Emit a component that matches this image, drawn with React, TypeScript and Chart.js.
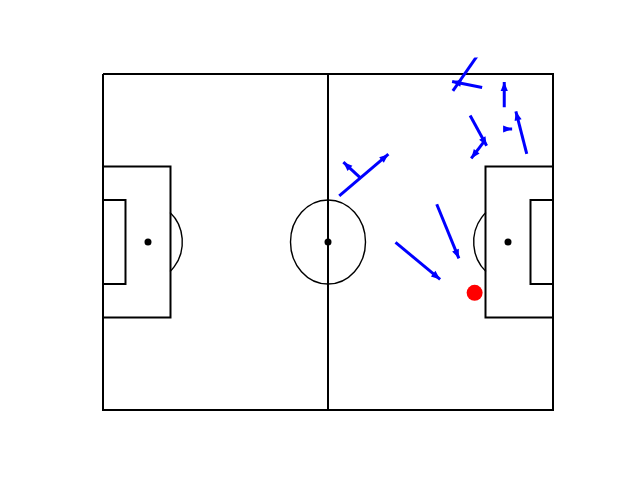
import React, { useEffect, useRef } from "react";
import { Chart, registerables } from "chart.js";

Chart.register(...registerables);

// Pitch geometry (120 x 80, y measured from top)
const pitchOutlineX = [0, 120, 120, 0, 0];
const pitchOutlineY = [0, 0, 80, 80, 0];
const halfwayX = [60, 60];
const halfwayY = [0, 80];
const leftBoxX = [0, 18, 18, 0];
const leftBoxY = [22, 22, 58, 58];
const leftSixX = [0, 6, 6, 0];
const leftSixY = [30, 30, 50, 50];
const rightBoxX = [120, 102, 102, 120];
const rightBoxY = [22, 22, 58, 58];
const rightSixX = [120, 114, 114, 120];
const rightSixY = [30, 30, 50, 50];
const spotX = [12, 60, 108];
const spotY = [40, 40, 40];
const centerCircleRadius = 10;
const penaltyArcRadius = 9.15;

// Passes (start -> end)
const passStartX = [93.3, 101.1, 107.0, 106.9, 113.0, 97.9, 101.7, 63.0, 68.7, 89.0, 78.0];
const passStartY = [4.0, 3.2, 7.9, 13.1, 19.0, 9.9, 16.0, 29.0, 24.8, 31.0, 40.1];
const passEndX = [101.8, 93.1, 107.0, 109.1, 110.1, 102.3, 98.2, 76.1, 64.1, 94.9, 89.9];
const passEndY = [-6.9, 1.8, 1.9, 13.1, 8.9, 17.1, 20.1, 19.1, 21.0, 43.9, 48.9];

// Shot
const shotX = [99.1];
const shotY = [52.1];

const X_MIN = -6.133;
const X_MAX = 126.133;
const Y_MIN = -3.905;
const Y_MAX = 84.095;

const toPts = (xs: number[], ys: number[]) => xs.map((x, i) => ({ x, y: ys[i] }));

const lineDs = (xs: number[], ys: number[], width = 2) => ({
  data: toPts(xs, ys),
  showLine: true,
  borderColor: "#000000",
  borderWidth: width,
  pointRadius: 0,
  fill: false,
  tension: 0,
  clip: 0,
});

const pitchMarkings = {
  id: "pitchMarkings",
  beforeDatasetsDraw(chart: any) {
    const { ctx, scales } = chart;
    const xs = scales.x;
    const ys = scales.y;
    const ell = (cx: number, cy: number, r: number, a0: number, a1: number) => {
      const px = xs.getPixelForValue(cx);
      const py = ys.getPixelForValue(cy);
      const rx = Math.abs(xs.getPixelForValue(cx + r) - px);
      const ry = Math.abs(ys.getPixelForValue(cy + r) - py);
      ctx.beginPath();
      ctx.ellipse(px, py, rx, ry, 0, a0, a1);
      ctx.stroke();
    };
    ctx.save();
    ctx.strokeStyle = "#000000";
    ctx.lineWidth = 1.4;
    const d = Math.PI / 180;
    ell(60, 40, centerCircleRadius, 0, 2 * Math.PI);
    ell(spotX[0], spotY[0], penaltyArcRadius, -50 * d, 50 * d);
    ell(spotX[2], spotY[2], penaltyArcRadius, 130 * d, 230 * d);
    ctx.restore();
  },
  afterDatasetsDraw(chart: any) {
    const { ctx, chartArea } = chart;
    ctx.save();
    ctx.beginPath();
    ctx.rect(chartArea.left, chartArea.top, chartArea.right - chartArea.left, chartArea.bottom - chartArea.top);
    ctx.clip();
    ctx.fillStyle = "#0000ff";
    chart.data.datasets.forEach((ds: any, i: number) => {
      if (!String(ds.label || "").startsWith("pass")) return;
      const pts = chart.getDatasetMeta(i).data;
      if (pts.length < 2) return;
      const a = pts[0];
      const b = pts[1];
      const ang = Math.atan2(b.y - a.y, b.x - a.x);
      const L = 9;
      const W = 3.6;
      const bx = b.x - L * Math.cos(ang);
      const by = b.y - L * Math.sin(ang);
      ctx.beginPath();
      ctx.moveTo(b.x, b.y);
      ctx.lineTo(bx + W * Math.sin(ang), by - W * Math.cos(ang));
      ctx.lineTo(bx - W * Math.sin(ang), by + W * Math.cos(ang));
      ctx.closePath();
      ctx.fill();
    });
    ctx.restore();
  },
};

export default function App() {
  const ref = useRef<HTMLCanvasElement | null>(null);

  useEffect(() => {
    if (!ref.current) return;
    const passSets = passStartX.map((_, i) => ({
      label: "pass" + i,
      data: [
        { x: passStartX[i], y: passStartY[i] },
        { x: passEndX[i], y: passEndY[i] },
      ],
      showLine: true,
      borderColor: "#0000ff",
      borderWidth: 3,
      borderCapStyle: "butt",
      pointRadius: 0,
      fill: false,
      tension: 0,
      clip: 0,
    }));
    const datasets: any[] = [
      ...passSets,
      {
        label: "shot",
        data: toPts(shotX, shotY),
        pointRadius: 8,
        pointBackgroundColor: "#ff0000",
        pointBorderWidth: 0,
        showLine: false,
      },
      {
        label: "spots",
        data: toPts(spotX, spotY),
        pointRadius: 3.5,
        pointBackgroundColor: "#000000",
        pointBorderWidth: 0,
        showLine: false,
      },
      { label: "outline", ...lineDs(pitchOutlineX, pitchOutlineY) },
      { label: "halfway", ...lineDs(halfwayX, halfwayY) },
      { label: "leftBox", ...lineDs(leftBoxX, leftBoxY) },
      { label: "leftSix", ...lineDs(leftSixX, leftSixY) },
      { label: "rightBox", ...lineDs(rightBoxX, rightBoxY) },
      { label: "rightSix", ...lineDs(rightSixX, rightSixY) },
    ];
    const chart = new Chart(ref.current, {
      type: "scatter",
      data: { datasets },
      options: {
        animation: false,
        responsive: false,
        events: [],
        layout: { padding: { left: 80, right: 64, top: 57.6, bottom: 52.8 } },
        plugins: { legend: { display: false }, tooltip: { enabled: false } },
        scales: {
          x: { type: "linear", display: false, min: X_MIN, max: X_MAX },
          y: { type: "linear", display: false, min: Y_MIN, max: Y_MAX, reverse: true },
        },
      },
      plugins: [pitchMarkings],
    } as any);
    return () => chart.destroy();
  }, []);

  return (
    <div style={{ position: "fixed", left: 0, top: 0, width: 640, height: 480, background: "#ffffff" }}>
      <canvas ref={ref} width={640} height={480} style={{ width: 640, height: 480 }} />
    </div>
  );
}
